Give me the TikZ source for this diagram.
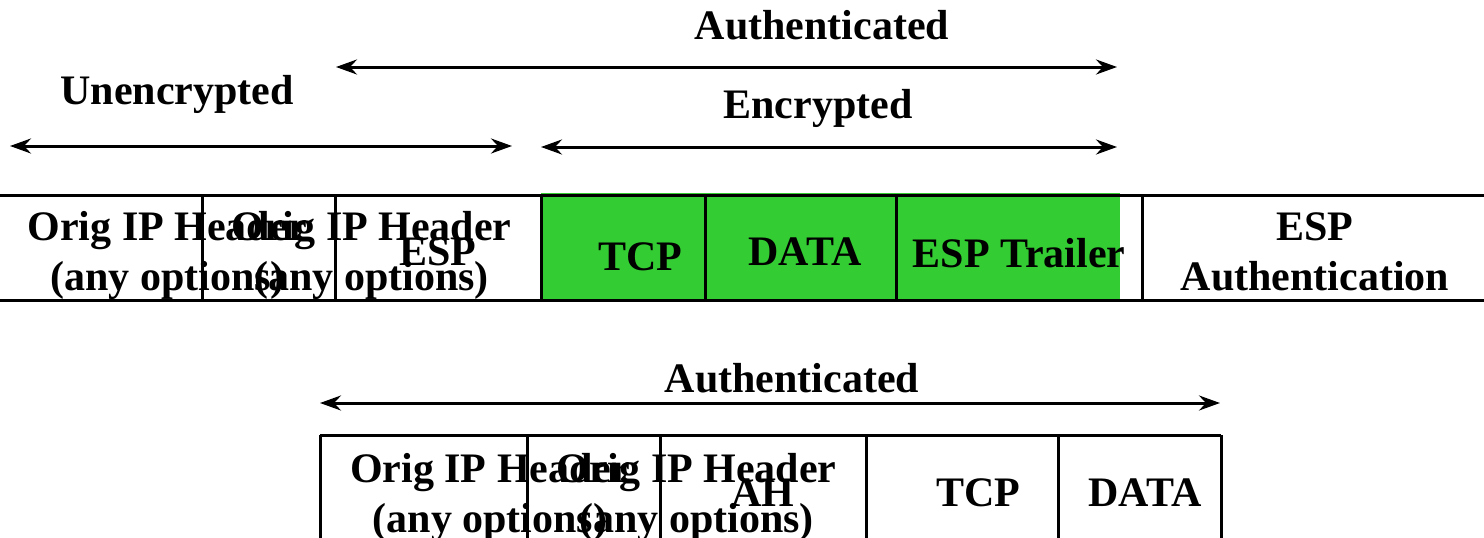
\documentclass[tikz,border=0pt]{standalone}
\usepackage{fontspec}
\setmainfont{Liberation Serif}
\usetikzlibrary{arrows.meta}
\definecolor{encgreen}{HTML}{33CC33}
\begin{document}
\begin{tikzpicture}[x=1pt,y=-1pt,
  lbl/.style={font=\bfseries\fontsize{42}{50}\selectfont, align=center, inner sep=0pt, anchor=base},
  rule/.style={line width=3pt},
  span/.style={line width=3pt, {Stealth[length=21pt,width=15pt,inset=7pt]}-{Stealth[length=21pt,width=15pt,inset=7pt]}}]
\useasboundingbox (0,0) rectangle (1484,538);
% ---------- top row ----------
\fill[encgreen] (541,193) rectangle (1120,301);
\draw[rule] (0,195) -- (1484,195);
\draw[rule] (0,300) -- (1484,300);
\foreach \x in {202,335,541,705,896,1142} \draw[rule] (\x,195) -- (\x,300);
\node[lbl] (t1) at (167.5,290) {Orig IP Header\\(any options)};
\node[lbl] (t2) at (371.5,290) {Orig IP Header\\(any options)};
\node[lbl] (esp) at (438,265) {ESP};
\node[lbl] (tcp) at (640,270) {TCP};
\node[lbl] (data) at (805,265) {DATA};
\node[lbl] (trl) at (1019,267) {ESP Trailer};
\node[lbl] (auth) at (1315,290) {ESP\\Authentication};
% ---------- top spans ----------
\coordinate (a1l) at (336,67);  \coordinate (a1r) at (1117,67);
\coordinate (a2l) at (10,146);  \coordinate (a2r) at (512,146);
\coordinate (a3l) at (541,147); \coordinate (a3r) at (1117,147);
\draw[span] (a1l) -- (a1r);
\draw[span] (a2l) -- (a2r);
\draw[span] (a3l) -- (a3r);
\node[lbl] (la1) at (822,39) {Authenticated};
\node[lbl] (la2) at (177,104) {Unencrypted};
\node[lbl] (la3) at (818,118) {Encrypted};
% ---------- bottom row ----------
\coordinate (b1l) at (320,403); \coordinate (b1r) at (1220,403);
\draw[span] (b1l) -- (b1r);
\node[lbl] (lb1) at (792,392) {Authenticated};
\draw[rule] (320,435) -- (1221,435);
\foreach \x in {320,527,660,866,1058,1221} \draw[rule] (\x,435) -- (\x,545);
\node[lbl] (u1) at (490,532) {Orig IP Header\\(any options)};
\node[lbl] (u2) at (696.5,532) {Orig IP Header\\(any options)};
\node[lbl] (ah) at (763,506) {AH};
\node[lbl] (btcp) at (978,506) {TCP};
\node[lbl] (bdata) at (1145,506) {DATA};
\end{tikzpicture}
\end{document}
